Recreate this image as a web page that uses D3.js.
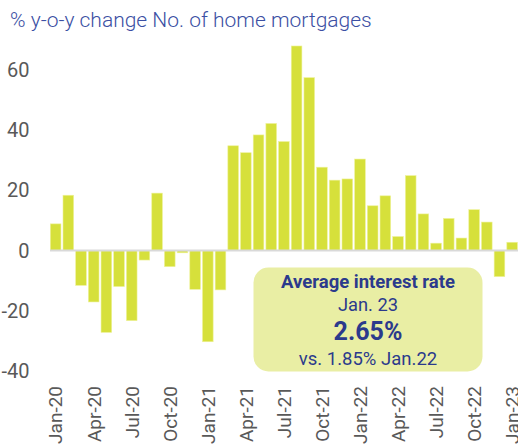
<!DOCTYPE html>
<html>
<head>
<meta charset="utf-8">
<script src="https://cdn.jsdelivr.net/npm/d3@7"></script>
<style>
  body { margin: 0; background: #fff; }
  svg { display: block; font-family: Roboto, sans-serif; }
</style>
</head>
<body>
<div class="container"></div>
<script>
// monthly y-o-y change, Jan-20 .. Jan-23
var months = ["Jan-20","Feb-20","Mar-20","Apr-20","May-20","Jun-20","Jul-20","Aug-20","Sep-20","Oct-20","Nov-20","Dec-20",
              "Jan-21","Feb-21","Mar-21","Apr-21","May-21","Jun-21","Jul-21","Aug-21","Sep-21","Oct-21","Nov-21","Dec-21",
              "Jan-22","Feb-22","Mar-22","Apr-22","May-22","Jun-22","Jul-22","Aug-22","Sep-22","Oct-22","Nov-22","Dec-22",
              "Jan-23"];
var changes = [8.8, 18.3, -11.6, -17.1, -27.2, -12.0, -23.3, -3.2, 19.0, -5.4, -0.8, -12.9,
               -30.3, -13.1, 34.7, 32.4, 38.3, 42.1, 36.1, 67.8, 57.3, 27.6, 23.3, 23.7,
               30.3, 14.8, 18.1, 4.6, 24.8, 12.1, 2.4, 10.6, 4.1, 13.5, 9.4, -8.7,
               2.7];
var yTicks = [-40, -20, 0, 20, 40, 60];
var xLabels = ["Jan-20","Apr-20","Jul-20","Oct-20","Jan-21","Apr-21","Jul-21","Oct-21","Jan-22","Apr-22","Jul-22","Oct-22","Jan-23"];
var boxLines = ["Average interest rate", "Jan. 23", "2.65%", "vs. 1.85% Jan.22"];

var width = 518, height = 447;
var svg = d3.select(".container").append("svg")
    .attr("width", width)
    .attr("height", height);

var x = d3.scaleBand()
    .domain(months)
    .range([49.3, 518.5])
    .paddingInner(0.16)
    .paddingOuter(0.08);

var y = d3.scaleLinear()
    .domain([-40, 60])
    .range([371, 69.5]);

// title
svg.append("text")
    .attr("x", 10)
    .attr("y", 26.7)
    .attr("fill", "#3b4fa3")
    .style("font-size", "21px")
    .style("font-weight", 300)
    .text("% y-o-y change No. of home mortgages");

// y tick labels
svg.selectAll(".ytick")
    .data(yTicks)
    .enter()
    .append("text")
    .attr("class", "ytick")
    .attr("x", 29.5)
    .attr("y", function(d) { return y(d); })
    .attr("dy", "0.36em")
    .attr("text-anchor", "end")
    .attr("fill", "#595959")
    .style("font-size", "20px")
    .text(function(d) { return d; });

// bars
svg.selectAll(".bar")
    .data(changes)
    .enter()
    .append("rect")
    .attr("class", "bar")
    .attr("x", function(d, i) { return x(months[i]); })
    .attr("width", x.bandwidth())
    .attr("y", function(d) { return y(Math.max(0, d)); })
    .attr("height", function(d) { return Math.abs(y(d) - y(0)); })
    .attr("fill", "#d6e03b")
    .attr("stroke", "#eef29a")
    .attr("stroke-width", 0.6);

// zero line
svg.append("line")
    .attr("x1", 50)
    .attr("x2", width)
    .attr("y1", y(0))
    .attr("y2", y(0))
    .attr("stroke", "#d9d9d9")
    .attr("stroke-width", 2);

// x labels
svg.selectAll(".xlabel")
    .data(xLabels)
    .enter()
    .append("text")
    .attr("class", "xlabel")
    .attr("transform", function(d) {
        return "translate(" + (x(d) + x.bandwidth() / 2) + ",386) rotate(-90)";
    })
    .attr("dy", "0.36em")
    .attr("text-anchor", "end")
    .attr("fill", "#595959")
    .style("font-size", "19px")
    .text(function(d) { return d; });

// interest rate box
var box = svg.append("g");
box.append("rect")
    .attr("x", 253.5)
    .attr("y", 267.5)
    .attr("width", 229)
    .attr("height", 104)
    .attr("rx", 15)
    .attr("fill", "#e9eea4");

var boxStyle = [
    { y: 288.3, size: "18.5px", weight: 700 },
    { y: 310.7, size: "18.3px", weight: 400 },
    { y: 340, size: "25px", weight: 700 },
    { y: 365, size: "18.5px", weight: 400 }
];
box.selectAll("text")
    .data(boxLines)
    .enter()
    .append("text")
    .attr("x", 368)
    .attr("y", function(d, i) { return boxStyle[i].y; })
    .attr("text-anchor", "middle")
    .attr("fill", "#2b3a8c")
    .style("font-size", function(d, i) { return boxStyle[i].size; })
    .style("font-weight", function(d, i) { return boxStyle[i].weight; })
    .text(function(d) { return d; });
</script>
</body>
</html>
